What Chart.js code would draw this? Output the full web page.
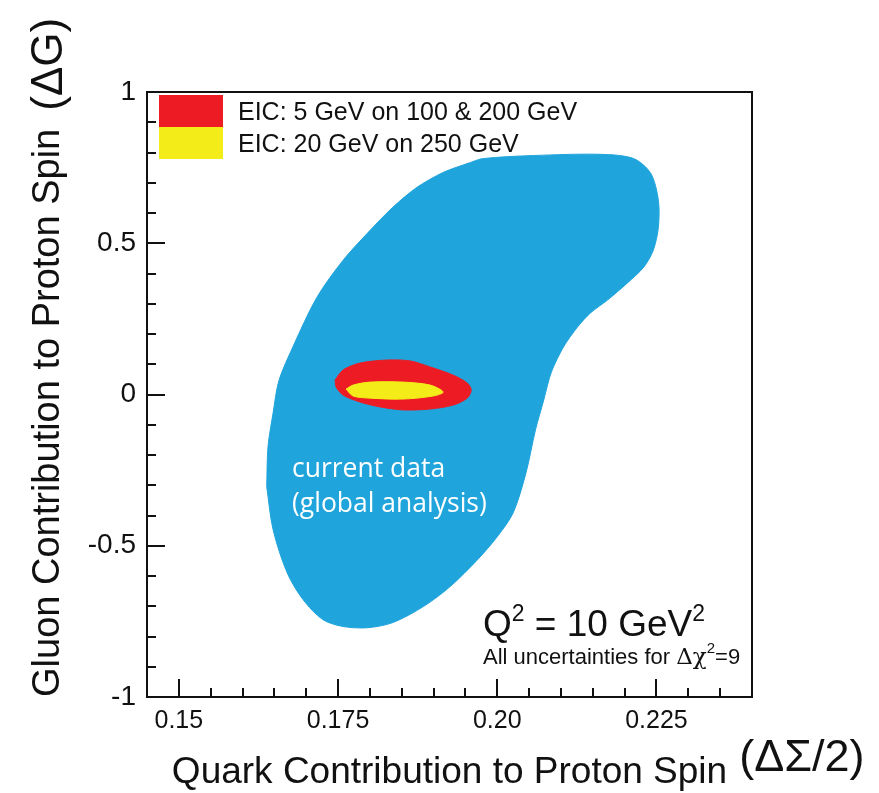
<!DOCTYPE html>
<html lang="en">
<head>
<meta charset="UTF-8">
<title>Quark and gluon contributions to proton spin</title>
<style>
  html, body { margin: 0; padding: 0; background: #fff; }
  #chart { display: block; }
</style>
</head>
<body>
<canvas id="chart" width="879" height="793"></canvas>
<script src="https://cdn.jsdelivr.net/npm/chart.js@4.4.1/dist/chart.umd.min.js"></script>
<script>
// outline of the current data region (global analysis)
const globalX = [0.1638, 0.1640, 0.1648, 0.1657, 0.1679, 0.1717, 0.1758, 0.1796, 0.1836, 0.1874,
  0.1915, 0.1958, 0.1978, 0.2057, 0.2162, 0.2214, 0.2241, 0.2253, 0.2253, 0.2245,
  0.2230, 0.2204, 0.2173, 0.2146, 0.2126, 0.2104, 0.2085, 0.2073, 0.2060,
  0.2045, 0.2025, 0.2000, 0.1969, 0.1926, 0.1884, 0.1836, 0.1796, 0.1758, 0.1726,
  0.1695, 0.1670, 0.1648, 0.1638];
const globalY = [-0.305, -0.173, -0.061, 0.045, 0.157, 0.322, 0.444, 0.533, 0.619, 0.685,
  0.734, 0.767, 0.780, 0.790, 0.794, 0.780, 0.731, 0.642, 0.553, 0.477,
  0.421, 0.368, 0.312, 0.269, 0.223, 0.157, 0.074, -0.018, -0.117,
  -0.260, -0.391, -0.470, -0.546, -0.635, -0.701, -0.754, -0.771, -0.767, -0.744,
  -0.678, -0.589, -0.447, -0.305];

// EIC: 5 GeV on 100 & 200 GeV
const eic5X = [0.17453, 0.17579, 0.17846, 0.18270, 0.18632, 0.18947, 0.19308, 0.19528, 0.19591,
  0.19528, 0.19308, 0.18947, 0.18522, 0.18160, 0.17846, 0.17579, 0.17469, 0.17453];
const eic5Y = [0.048, 0.081, 0.104, 0.114, 0.111, 0.091, 0.064, 0.038, 0.015,
  -0.012, -0.035, -0.048, -0.051, -0.041, -0.025, -0.002, 0.025, 0.048];

// EIC: 20 GeV on 250 GeV
const eic20X = [0.17626, 0.17736, 0.18003, 0.18522, 0.18947, 0.19151, 0.18994, 0.18522, 0.18003, 0.17736, 0.17626];
const eic20Y = [0.018, 0.031, 0.041, 0.041, 0.031, 0.008, -0.005, -0.015, -0.012, -0.005, 0.018];

const xTicks = [0.15, 0.175, 0.20, 0.225];
const xTickLabels = ['0.15', '0.175', '0.20', '0.225'];
const yTicks = [-1, -0.5, 0, 0.5, 1];
const yTickLabels = ['-1', '-0.5', '0', '0.5', '1'];

const legendNames = ['EIC: 5 GeV on 100 & 200 GeV', 'EIC: 20 GeV on 250 GeV'];

const BLUE = '#1fa4dc';
const RED = '#ed1c24';
const YELLOW = '#f3ec19';
const SANS = '"Liberation Sans", Arial, Helvetica, sans-serif';

function pts(xs, ys) {
  return xs.map((x, i) => ({x: x, y: ys[i]}));
}

function region(label, xs, ys, color, order) {
  return {
    label: label,
    data: pts(xs, ys),
    showLine: true,
    fill: 'shape',
    backgroundColor: color,
    borderColor: color,
    borderWidth: 1,
    pointRadius: 0,
    tension: 0.3,
    order: order
  };
}

// write several runs of text one after another (for superscripts)
function runs(ctx, x, y, parts) {
  parts.forEach(p => {
    ctx.font = p.font;
    ctx.fillText(p.t, x, y + (p.dy || 0));
    x += ctx.measureText(p.t).width;
  });
  return x;
}

const decor = {
  id: 'decor',
  afterDraw(chart) {
    const ctx = chart.ctx;
    const ca = chart.chartArea;
    const xs = chart.scales.x, ys = chart.scales.y;
    ctx.save();

    // frame
    ctx.strokeStyle = '#111';
    ctx.lineWidth = 2;
    ctx.strokeRect(ca.left, ca.top, ca.right - ca.left, ca.bottom - ca.top);

    // tick marks, inside the frame
    ctx.beginPath();
    for (let k = 0; k <= 19; k++) {
      const v = 0.145 + k * 0.005;
      if (v <= xs.min + 1e-9 || v >= xs.max - 1e-9) continue;
      const major = xTicks.some(t => Math.abs(t - v) < 1e-6);
      const px = Math.round(xs.getPixelForValue(v));
      ctx.moveTo(px, ca.bottom);
      ctx.lineTo(px, ca.bottom - (major ? 18 : 9));
    }
    for (let k = -9; k <= 9; k++) {
      const v = k / 10;
      const major = yTicks.some(t => Math.abs(t - v) < 1e-6);
      const py = Math.round(ys.getPixelForValue(v));
      ctx.moveTo(ca.left, py);
      ctx.lineTo(ca.left + (major ? 18 : 9), py);
    }
    ctx.stroke();

    // legend
    const colors = [RED, YELLOW];
    ctx.textBaseline = 'alphabetic';
    ctx.textAlign = 'left';
    legendNames.forEach((name, i) => {
      const top = ca.top + 3 + i * 32;
      ctx.fillStyle = colors[i];
      ctx.fillRect(ca.left + 12, top, 64, 32);
      ctx.fillStyle = '#111';
      ctx.font = '25px ' + SANS;
      ctx.fillText(name, ca.left + 91, top + 25);
    });

    // region label
    ctx.fillStyle = '#fff';
    ctx.font = '26.5px "Open Sans", "Noto Sans", sans-serif';
    ctx.fillText('current data', 292, 477);
    ctx.fillText('(global analysis)', 292, 512);

    // Q^2 note
    ctx.fillStyle = '#111';
    runs(ctx, 483, 636, [
      {t: 'Q', font: '37px ' + SANS},
      {t: '2', font: '23px ' + SANS, dy: -15},
      {t: ' = 10 GeV', font: '37px ' + SANS},
      {t: '2', font: '23px ' + SANS, dy: -15}
    ]);
    runs(ctx, 483, 664, [
      {t: 'All uncertainties for ', font: '22px ' + SANS},
      {t: '\u0394\u03c7', font: '23px "DejaVu Serif", "Liberation Serif", serif'},
      {t: '2', font: '15px ' + SANS, dy: -11},
      {t: '=9', font: '22px ' + SANS}
    ]);

    // axis title tails
    ctx.font = '37px ' + SANS;
    const wx = ctx.measureText(chart.options.scales.x.title.text).width;
    ctx.font = '45px ' + SANS;
    ctx.fillText('(\u0394\u03a3/2)', (ca.left + ca.right) / 2 + wx / 2 + 12, 771);

    ctx.font = '38px ' + SANS;
    const wy = ctx.measureText(chart.options.scales.y.title.text).width;
    ctx.translate(62, ca.bottom - wy - 18);
    ctx.rotate(-Math.PI / 2);
    ctx.font = '44px ' + SANS;
    ctx.fillText('(\u0394G)', 0, 0);
    ctx.restore();
  }
};

new Chart(document.getElementById('chart'), {
  type: 'scatter',
  data: {
    datasets: [
      region(legendNames[1], eic20X, eic20Y, YELLOW, 1),
      region(legendNames[0], eic5X, eic5Y, RED, 2),
      region('current data (global analysis)', globalX, globalY, BLUE, 3)
    ]
  },
  options: {
    responsive: false,
    animation: false,
    layout: { padding: { left: 0, top: 92, right: 127, bottom: 0 } },
    plugins: {
      legend: { display: false },
      tooltip: { enabled: false }
    },
    scales: {
      x: {
        type: 'linear',
        min: 0.145,
        max: 0.240,
        afterFit: s => { s.height = 96; },
        afterBuildTicks: s => { s.ticks = xTicks.map(v => ({value: v})); },
        grid: { display: false, drawTicks: false },
        border: { display: false },
        ticks: {
          padding: 9,
          color: '#111',
          font: { family: SANS, size: 25 },
          maxRotation: 0,
          autoSkip: false,
          callback: (v, i) => xTickLabels[i]
        },
        title: {
          display: true,
          text: 'Quark Contribution to Proton Spin',
          color: '#111',
          font: { family: SANS, size: 37, lineHeight: 1 },
          padding: { top: 0, bottom: 2 }
        }
      },
      y: {
        type: 'linear',
        min: -1,
        max: 1,
        afterFit: s => { s.width = 147; },
        afterBuildTicks: s => { s.ticks = yTicks.map(v => ({value: v})); },
        grid: { display: false, drawTicks: false },
        border: { display: false },
        ticks: {
          padding: 11,
          color: '#111',
          font: { family: SANS, size: 28 },
          autoSkip: false,
          callback: (v, i) => yTickLabels[i]
        },
        title: {
          display: true,
          align: 'start',
          text: 'Gluon Contribution to Proton Spin',
          color: '#111',
          font: { family: SANS, size: 38, lineHeight: 1 },
          padding: { top: 30, bottom: 0 }
        }
      }
    }
  },
  plugins: [decor]
});
</script>
</body>
</html>
